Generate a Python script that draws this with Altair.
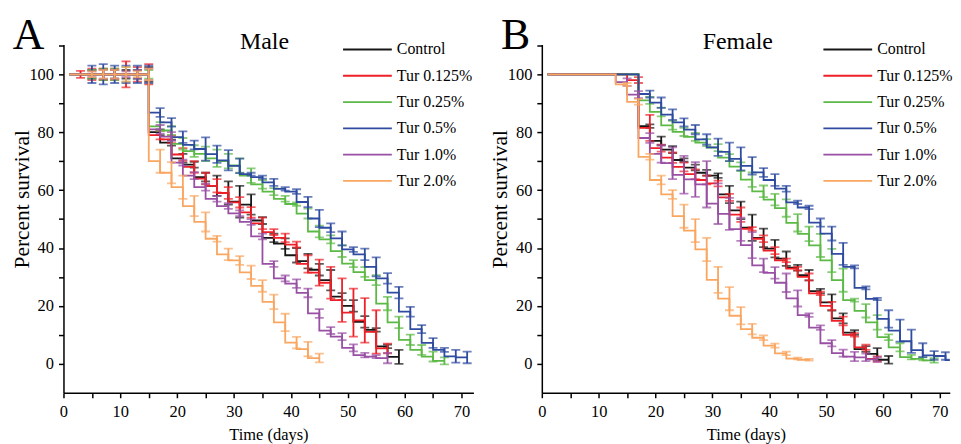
import altair as alt
import pandas as pd

FONT = "Liberation Serif"
SERIES = ["Control", "Tur 0.125%", "Tur 0.25%", "Tur 0.5%", "Tur 1.0%", "Tur 2.0%"]
COLORS = ["#161616", "#EE1F26", "#5CB946", "#2E4B9F", "#984FA4", "#F9A661"]
DAYS = [1, 3, 5, 7, 9, 11, 13, 15, 17, 19, 21, 23, 25, 27, 29, 31, 33, 35, 37,
        39, 41, 43, 45, 47, 49, 51, 53, 55, 57, 59, 61, 63, 65, 67, 69, 71, 73]

# ---------------- Male (panel A) ----------------
male_control = [100, 100, 100, 100, 100, 100, 100, 100, 80, 76.4, 71, 68.8, 64.5, 61.5, 59, 56,
                55, 49.5, 43.5, 41.5, 37.5, 35.5, 32.5, 28.9, 23.2, 20, 14.5, 11.7, 6, 2.4]
male_control_sem = [0, 0, 1.5, 1.8, 1.5, 1.5, 1.5, 2.5, 1, 1, 1.5, 1, 1.5, 3.5, 4, 5.5,
                    3.5, 1.2, 1.5, 1.8, 2.5, 2.5, 2, 3.5, 1.2, 2, 2, 0.6, 0.6, 2.4]
male_t0125 = [100, 100, 100, 100, 100, 100, 100, 100, 79, 77.5, 72.3, 68, 64, 61.5, 59, 55.8,
              52.3, 48.5, 45.5, 43.5, 41.2, 34.5, 31.5, 28, 22, 17.7, 15, 11, 5.3]
male_t0125_sem = [0, 1.2, 2, 2, 2, 4.5, 2.5, 3.5, 1.5, 1.3, 2.2, 2, 2, 2.3, 2, 1.8,
                  1.8, 2, 1, 1.5, 1, 3, 4.5, 5.5, 7.5, 8.3, 7.7, 7.5, 1.7]
male_t025 = [100, 100, 100, 100, 100, 100, 100, 100, 82, 80.6, 76, 73.5, 72.5, 71, 70, 68.5,
             65, 62, 59.5, 57, 55.2, 51.9, 45.7, 43, 38.9, 34.6, 31.7, 28.9, 20.8, 14.3,
             8.3, 4.8, 2.5, 1]
male_t025_sem = [0, 0, 1.5, 2, 2, 2.5, 1.5, 1.5, 1.5, 1.5, 2, 2, 2.5, 3, 2.5, 2.5,
                 2.5, 1.5, 1.2, 1, 0.6, 1.7, 2, 1.4, 2, 1.2, 1.7, 1.7, 2.3, 2,
                 1.8, 1.7, 1.7, 1.2]
male_t05 = [100, 100, 100, 100, 100, 100, 100, 100, 86.8, 83.4, 78.3, 75.6, 74.2, 72.4, 70.3,
            68.4, 65.5, 64.5, 62.7, 60.4, 59.5, 55.9, 50.2, 47, 43.3, 39.5, 37.8, 33.5, 29.5,
            24.6, 18, 12, 7.2, 4.8, 2.6, 2.2]
male_t05_sem = [0, 0, 3, 3.5, 3, 3, 3, 3, 1.5, 1.5, 2, 1.5, 4, 3, 3.5,
                2.5, 0.5, 0.5, 1.2, 0.6, 0.8, 1.8, 3, 1.5, 2.4, 0.8, 2, 3.3, 1.8,
                2, 1.7, 1.4, 1.7, 0.7, 2.2, 2]
male_t10 = [100, 100, 100, 100, 100, 100, 100, 100, 81, 78.5, 69.5, 65, 61, 57, 54.5, 52,
            49, 44, 34.5, 29.5, 27.7, 24.5, 17.4, 11.5, 9.4, 5.5, 3, 2.5, 2]
male_t10_sem = [0, 0, 1, 1.5, 1.5, 1, 1.5, 2, 1.5, 1.5, 1, 1.2, 1.2, 1, 1, 1,
                1, 1, 1, 1, 1.5, 1.5, 1.5, 1.2, 1.2, 1.2, 0.8, 0.5, 1.8]
male_t20 = [100, 100, 100, 100, 100, 100, 100, 100, 70, 66, 61, 54.5, 49, 43.2, 37.8, 35.7,
            31.6, 26.9, 21.4, 14.3, 7.3, 5.1, 2]
male_t20_sem = [0, 0, 1, 1.5, 1.5, 2.5, 1, 2, 4, 3.7, 4, 3.5, 3.3, 1, 2, 1.5,
                2.3, 2, 2.5, 3, 2, 2.5, 1.5]

# ---------------- Female (panel B) ----------------
female_control = [100, 100, 100, 100, 100, 100, 100, 100, 100, 82.1, 77, 74, 70.4, 67.8, 66, 65,
                  58.5, 53, 47, 43.5, 39.8, 36.3, 33.2, 30.6, 25.1, 21.2, 15.7, 10.8, 5.1, 3.4, 1.4]
female_control_sem = [0, 0, 0, 0, 0, 0, 0, 0, 0, 0.6, 1.5, 1.2, 0.6, 1, 1, 0.8,
                      3, 3, 4.5, 3.2, 3, 2.5, 1, 1.8, 0.8, 2.8, 1.7, 0.8, 1, 2, 1.3]
female_t0125 = [100, 100, 100, 100, 100, 100, 100, 100, 98, 81.5, 74.5, 71.2, 68, 65.5, 63.5, 62.3,
                57.5, 51.5, 46.6, 43.2, 39.1, 35.7, 32.9, 30, 24.3, 20, 14.8, 10, 5.7, 1.7]
female_t0125_sem = [0, 0, 0, 0, 0, 0, 0, 0, 1, 4.5, 1.2, 1.8, 1.5, 1.7, 1.5, 1,
                    1.2, 2.5, 0.6, 1.2, 1.2, 0.6, 0.6, 1.2, 0.6, 1.4, 1.5, 0.6, 0.9, 0.9]
female_t025 = [100, 100, 100, 100, 100, 100, 100, 100, 100, 91, 87, 82.4, 80.1, 78.4, 76.4, 74.7,
               71.2, 68.1, 63.6, 59.6, 56.7, 53.8, 48.7, 44.9, 40.9, 35.7, 28.9, 22, 18.3, 14.3,
               9.2, 5.7, 2.3, 1.7, 1.2]
female_t025_sem = [0, 0, 0, 0, 0, 0, 0, 0, 0, 1.2, 1.5, 1.5, 1.4, 1.4, 1.2, 1.2,
                   1.2, 1.5, 2.5, 2, 2, 3, 3, 2.5, 4, 4, 4, 0.5, 2.3, 2.5,
                   1, 1.4, 0.8, 0.5, 0.8]
female_t05 = [100, 100, 100, 100, 100, 100, 100, 100, 100, 93.2, 90.2, 86.1, 83.4, 80.9, 77.5, 74.8,
              73.2, 70.8, 68.4, 66.1, 63.5, 60.5, 55.8, 54, 48.8, 45, 38, 33.5, 26.2, 22.4,
              15.5, 11.5, 7.8, 4.7, 2.9, 2.7, 1.3]
female_t05_sem = [0, 0, 0, 0, 0, 0, 0, 0, 0, 1.2, 1.8, 1.8, 1.4, 1.6, 1.8, 3,
                  3.2, 4, 3, 1.5, 2, 1, 0.6, 0.6, 1.4, 2.4, 3.8, 0.5, 0.5, 0.4,
                  3, 3.8, 4, 2.4, 1.5, 1.3, 0.6]
female_t10 = [100, 100, 100, 100, 100, 100, 100, 97.3, 93, 78, 72.5, 69.3, 65.3, 63.7, 62, 55.3,
              51.8, 46.5, 41, 34, 31.4, 28, 22.6, 16.8, 12.5, 7.1, 3.7, 2.5, 2.2, 1.5]
female_t10_sem = [0, 0, 0, 0, 0, 0, 0, 1.3, 1.2, 1.7, 3, 5.5, 6.5, 6, 8, 7,
                  5.5, 4, 4.5, 2.3, 2, 3.2, 2.8, 0.6, 0.8, 1.1, 1.2, 1.6, 1.3, 0.8]
female_t20 = [100, 100, 100, 100, 100, 100, 100, 96.5, 90.5, 71.5, 63.5, 58.5, 51, 46, 39.5, 29,
              22.5, 16.6, 12, 9, 6.3, 3.6, 1.8, 1.4]
female_t20_sem = [0, 0, 0, 0, 0, 0, 0, 0.5, 1, 1, 1.5, 1.5, 4, 4, 4, 4.5,
                  4, 3, 1.8, 0.8, 0.7, 0.6, 0.3, 0.3]

MALE = [(male_control, male_control_sem), (male_t0125, male_t0125_sem), (male_t025, male_t025_sem),
        (male_t05, male_t05_sem), (male_t10, male_t10_sem), (male_t20, male_t20_sem)]
FEMALE = [(female_control, female_control_sem), (female_t0125, female_t0125_sem),
          (female_t025, female_t025_sem), (female_t05, female_t05_sem),
          (female_t10, female_t10_sem), (female_t20, female_t20_sem)]

LW = 1.8


def build_df(groups):
    rows = []
    for name, (vals, sems) in zip(SERIES, groups):
        for d, v, e in zip(DAYS, vals, sems):
            rows.append({"series": name, "day": d, "v": v, "e": e, "lo": v - e, "hi": v + e})
    return pd.DataFrame(rows)


def make_panel(df, xmax, width, letter, letter_x, sex, sex_x, legend_x):
    xs = alt.Scale(domain=[0, xmax], nice=False, zero=False)
    ys = alt.Scale(domain=[-10, 110.3], nice=False, zero=False)
    xaxis = alt.Axis(values=list(range(0, 75, 5)),
                     labelExpr="datum.value % 10 == 0 ? datum.label : ''",
                     title="Time (days)", grid=False, tickSize=5, tickWidth=1.5,
                     tickColor="black", domainColor="black", domainWidth=1.5,
                     labelFont=FONT, labelFontSize=16.5, labelColor="black", labelPadding=6,
                     labelFlush=False, labelOverlap=False,
                     titleFont=FONT, titleFontSize=16.5, titleFontWeight="normal",
                     titleColor="black", titleY=47, titleBaseline="alphabetic")
    yaxis = alt.Axis(values=list(range(0, 120, 10)),
                     labelExpr="(datum.value % 20 == 0 && datum.value <= 100) ? datum.label : ''",
                     title="Percent survival", grid=False, tickSize=5, tickWidth=1.5,
                     tickColor="black", domainColor="black", domainWidth=1.5,
                     labelFont=FONT, labelFontSize=16.5, labelColor="black", labelPadding=5,
                     labelOverlap=False,
                     titleFont=FONT, titleFontSize=21.5, titleFontWeight="normal",
                     titleColor="black", titleX=-41.5, titleY=155, titleBaseline="middle")
    cscale = alt.Scale(domain=SERIES, range=COLORS)
    legend = alt.Legend(orient="none", legendX=legend_x, legendY=-3, title=None,
                        symbolType="stroke", symbolSize=2401, symbolStrokeWidth=LW,
                        labelFont=FONT, labelFontSize=16, labelColor="black",
                        labelOffset=4, rowPadding=10.4, clipHeight=16, padding=0)
    X = alt.X("day:Q", scale=xs, axis=xaxis)
    layers = []
    for s in SERIES:
        base = alt.Chart(df).transform_filter(alt.datum.series == s)
        layers.append(base.mark_line(interpolate="step-before", strokeWidth=LW, clip=True).encode(
            x=X, y=alt.Y("v:Q", scale=ys, axis=yaxis),
            color=alt.Color("series:N", scale=cscale, legend=legend)))
        eb = base.transform_filter("datum.e > 0")
        layers.append(eb.mark_rule(strokeWidth=LW, clip=True).encode(
            x=X, y=alt.Y("lo:Q", scale=ys, axis=yaxis), y2="hi:Q",
            color=alt.Color("series:N", scale=cscale, legend=None)))
        for f in ("lo", "hi"):
            layers.append(eb.mark_tick(orient="horizontal", size=9, thickness=LW, clip=True).encode(
                x=X, y=alt.Y(f + ":Q", scale=ys, axis=yaxis),
                color=alt.Color("series:N", scale=cscale, legend=None)))
    layers.append(alt.Chart(pd.DataFrame({"t": [letter]})).mark_text(
        font=FONT, fontSize=44, align="left", baseline="top", color="black").encode(
        text="t:N", x=alt.value(letter_x), y=alt.value(-30.4)))
    layers.append(alt.Chart(pd.DataFrame({"t": [sex]})).mark_text(
        font=FONT, fontSize=24, align="center", baseline="alphabetic", color="black").encode(
        text="t:N", x=alt.value(sex_x), y=alt.value(5)))
    return alt.layer(*layers).properties(width=width, height=350)


panel_a = make_panel(build_df(MALE), 72.1, 412, "A", -51, "Male", 202, 280)
panel_b = make_panel(build_df(FEMALE), 71.75, 410, "B", -41, "Female", 197, 282)

chart = (alt.hconcat(panel_a, panel_b, spacing=15.75)
         .resolve_scale(x="independent", y="independent", color="independent")
         .resolve_legend(color="independent")
         .properties(padding={"left": 2.75, "top": 4.6, "right": 0, "bottom": 0})
         .configure_view(stroke=None))

chart.save("out.html", embed_options={"renderer": "svg", "actions": False})
